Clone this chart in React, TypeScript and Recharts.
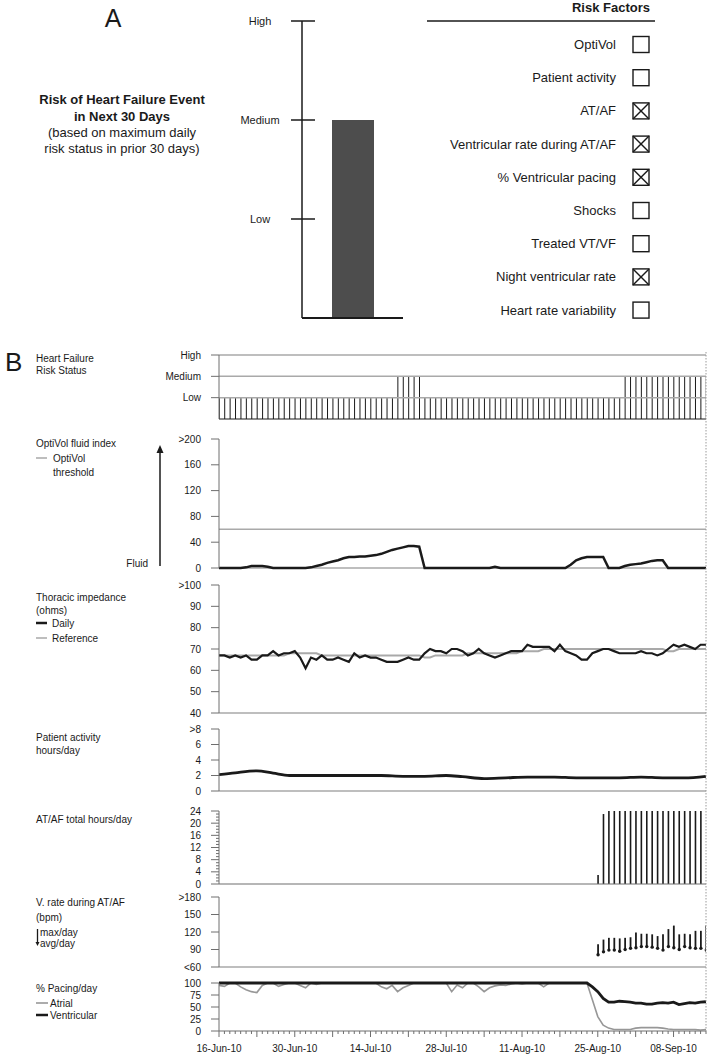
import React from 'react';
import { BarChart, ComposedChart, Bar, Line, XAxis, YAxis, ReferenceLine } from 'recharts';

const FONT = '"Liberation Sans", Arial, Helvetica, sans-serif';
const INK = '#1a1a1a';
const AXIS = '#6e6e6e';
const GRID = '#a9a9a9';

// ---- panel A data
const riskLevels = ['Low', 'Medium', 'High'];
const currentRisk = 2;
const riskFactors = [
  'OptiVol',
  'Patient activity',
  'AT/AF',
  'Ventricular rate during AT/AF',
  '% Ventricular pacing',
  'Shocks',
  'Treated VT/VF',
  'Night ventricular rate',
  'Heart rate variability',
];
const riskFactorFlags = [false, false, true, true, true, false, false, true, false];

// ---- panel B data (day 0 = 16-Jun-10)
const days = Array.from({ length: 91 }, (_, i) => i);
const dateTickDays = [0, 14, 28, 42, 56, 70, 84];
const dateTickLabels = ['16-Jun-10', '30-Jun-10', '14-Jul-10', '28-Jul-10', '11-Aug-10', '25-Aug-10', '08-Sep-10'];

const riskStatus = [
  1, 1, 1, 1, 1, 1, 1, 1, 1, 1,
  1, 1, 1, 1, 1, 1, 1, 1, 1, 1,
  1, 1, 1, 1, 1, 1, 1, 1, 1, 1,
  1, 1, 1, 2, 2, 2, 2, 2, 1, 1,
  1, 1, 1, 1, 1, 1, 1, 1, 1, 1,
  1, 1, 1, 1, 1, 1, 1, 1, 1, 1,
  1, 1, 1, 1, 1, 1, 1, 1, 1, 1,
  1, 1, 1, 1, 1, 2, 2, 2, 2, 2,
  2, 2, 2, 2, 2, 2, 2, 2, 2, 2, 2,
];

const optivolIndex = [
  0, 0, 0, 0, 0, 1, 3, 3, 3, 2,
  0, 0, 0, 0, 0, 0, 0, 1, 3, 5,
  8, 10, 12, 15, 17, 17, 18, 18, 19, 20,
  22, 25, 28, 30, 32, 34, 34, 33, 0, 0,
  0, 0, 0, 0, 0, 0, 0, 0, 0, 0,
  0, 2, 0, 0, 0, 0, 0, 0, 0, 0,
  0, 0, 0, 0, 0, 5, 12, 15, 17, 17,
  17, 17, 0, 0, 0, 3, 5, 6, 7, 9,
  11, 12, 12, 0, 0, 0, 0, 0, 0, 0, 0,
];
const optivolThreshold = 60;

const impedanceDaily = [
  67, 67, 66, 67, 66, 67, 65, 65, 67, 67,
  69, 67, 68, 68, 69, 66, 61, 66, 65, 67,
  65, 65, 66, 65, 64, 68, 66, 67, 66, 66,
  65, 64, 64, 64, 65, 66, 65, 65, 68, 70,
  69, 69, 68, 70, 70, 69, 67, 68, 70, 68,
  67, 66, 67, 68, 69, 69, 69, 72, 71, 71,
  71, 71, 69, 72, 69, 68, 67, 65, 65, 68,
  69, 70, 70, 69, 68, 68, 68, 68, 69, 68,
  68, 67, 68, 70, 72, 71, 72, 71, 70, 72, 72,
];
const impedanceReference = [
  67, 67, 67, 67, 67, 67, 67, 67, 67, 67,
  67, 67, 67, 68, 68, 68, 68, 68, 68, 67,
  67, 67, 67, 67, 67, 67, 67, 67, 67, 67,
  67, 67, 67, 67, 67, 67, 67, 67, 66, 66,
  67, 67, 67, 67, 67, 67, 68, 68, 68, 68,
  68, 68, 68, 68, 68, 68, 69, 69, 69, 69,
  70, 70, 70, 70, 70, 70, 70, 70, 70, 70,
  70, 70, 70, 70, 70, 70, 70, 70, 70, 70,
  70, 70, 70, 69, 69, 70, 70, 70, 70, 70, 70,
];

const activityDays = [0, 3, 7, 10, 13, 18, 24, 30, 34, 38, 42, 45, 49, 53, 57, 62, 66, 70, 74, 78, 82, 86, 90];
const activityHours = [2.1, 2.35, 2.6, 2.3, 2.0, 2.0, 2.0, 2.0, 1.9, 1.9, 2.0, 1.85, 1.6, 1.7, 1.8, 1.8, 1.7, 1.7, 1.7, 1.8, 1.7, 1.7, 1.9];

const atafDays = [70, 71, 72, 73, 74, 75, 76, 77, 78, 79, 80, 81, 82, 83, 84, 85, 86, 87, 88, 89];
const atafHours = [3, 23, 24, 24, 24, 24, 24, 24, 24, 24, 24, 24, 24, 24, 24, 24, 24, 24, 24, 24];

const vrateDays = [70, 71, 72, 73, 74, 75, 76, 77, 78, 79, 80, 81, 82, 83, 84, 85, 86, 87, 88, 89, 90];
const vrateMax = [99, 107, 110, 110, 109, 110, 111, 119, 117, 117, 116, 113, 116, 125, 131, 116, 117, 116, 122, 122, 131];
const vrateAvg = [81, 86, 89, 89, 87, 90, 92, 93, 95, 95, 94, 92, 89, 95, 93, 90, 95, 93, 92, 92, 89];

const pacingAtrial = [
  95, 93, 100, 100, 92, 86, 82, 80, 95, 100,
  100, 93, 97, 100, 100, 95, 90, 100, 97, 100,
  100, 100, 100, 100, 100, 100, 100, 100, 100, 100,
  92, 88, 95, 82, 90, 95, 100, 100, 100, 100,
  100, 100, 100, 82, 96, 90, 100, 100, 92, 82,
  90, 94, 96, 95, 98, 100, 98, 100, 100, 100,
  92, 100, 100, 100, 100, 100, 100, 100, 100, 65,
  30, 12, 6, 3, 3, 3, 3, 6, 7, 7,
  7, 7, 6, 4, 3, 3, 3, 3, 3, 2, 3,
];
const pacingVentricular = [
  100, 100, 100, 100, 100, 100, 100, 100, 100, 100,
  100, 100, 100, 100, 100, 100, 100, 100, 100, 100,
  100, 100, 100, 100, 100, 100, 100, 100, 100, 100,
  100, 100, 100, 100, 100, 100, 100, 100, 100, 100,
  100, 100, 100, 100, 100, 100, 100, 100, 100, 100,
  100, 100, 100, 100, 100, 100, 100, 100, 100, 100,
  100, 100, 100, 100, 100, 100, 100, 100, 100, 92,
  82, 68, 60, 60, 62, 61, 60, 58, 58, 56,
  56, 58, 59, 58, 60, 55, 57, 59, 58, 60, 61,
];

// ---- layout
const PLOT_LEFT = 219;
const PLOT_RIGHT = 706;
const Y_W = 60;
const PAD = 8;
const A_AXIS_X = 302;

const riskTable = days.map((d, i) => ({ day: d, status: riskStatus[i] }));
const optivolTable = days.map((d, i) => ({ day: d, fluid: optivolIndex[i] }));
const impedanceTable = days.map((d, i) => ({ day: d, daily: impedanceDaily[i], reference: impedanceReference[i] }));
const activityTable = activityDays.map((d, i) => ({ day: d, hours: activityHours[i] }));
const atafTable = atafDays.map((d, i) => ({ day: d, hours: atafHours[i] }));
const vrateTable = vrateDays.map((d, i) => ({ day: d, max: vrateMax[i], avg: vrateAvg[i] }));
const pacingTable = days.map((d, i) => ({ day: d, atrial: pacingAtrial[i], ventricular: pacingVentricular[i] }));

const yTick = (fmt: (v: number) => string | null, isMajor: (v: number) => boolean = () => true) =>
  (p: any) => {
    const v = Number(p.payload.value);
    const label = fmt(v);
    return (
      <g>
        <line x1={PLOT_LEFT - (isMajor(v) ? 8 : 3)} x2={PLOT_LEFT} y1={p.y} y2={p.y} stroke={AXIS} />
        {label !== null && (
          <text x={PLOT_LEFT - 18} y={p.y} dy="0.35em" textAnchor="end" fontSize={10} fontFamily={FONT} fill={INK}>
            {label}
          </text>
        )}
      </g>
    );
  };

const dateTick = (p: any) => {
  const d = Number(p.payload.value);
  const idx = dateTickDays.indexOf(d);
  return (
    <g>
      <line x1={p.x} x2={p.x} y1={p.y} y2={p.y + (d % 7 === 0 ? 6 : 3)} stroke={AXIS} />
      {idx >= 0 && (
        <text x={p.x} y={p.y + 21} textAnchor="middle" fontSize={10} fontFamily={FONT} fill={INK}>
          {dateTickLabels[idx]}
        </text>
      )}
    </g>
  );
};

const riskTickA = (p: any) => {
  const v = Number(p.payload.value);
  return (
    <g>
      <line x1={A_AXIS_X - 11} x2={A_AXIS_X + 13} y1={p.y} y2={p.y} stroke={INK} strokeWidth={1.5} />
      <text x={260} y={p.y} dy="0.35em" textAnchor="middle" fontSize={11} fontFamily={FONT} fill={INK}>
        {riskLevels[v - 1]}
      </text>
    </g>
  );
};

const Stroke = (width: number) => (p: any) => {
  const cx = p.x + p.width / 2;
  const y1 = Math.min(p.y, p.y + p.height);
  const y2 = Math.max(p.y, p.y + p.height);
  return <line x1={cx} x2={cx} y1={y1} y2={y2} stroke={INK} strokeWidth={width} />;
};

const RangeStroke = (p: any) => {
  const cx = p.x + p.width / 2;
  const y1 = Math.min(p.y, p.y + p.height);
  const y2 = Math.max(p.y, p.y + p.height);
  return (
    <g>
      <line x1={cx} x2={cx} y1={y1} y2={y2} stroke={INK} strokeWidth={1.8} />
      <circle cx={cx} cy={y2} r={1.7} fill={INK} />
    </g>
  );
};

function Strip({ top, bottom, data, xAxisHeight = 0, children }: any) {
  const height = bottom - top + PAD + (xAxisHeight || PAD);
  return (
    <div style={{ position: 'absolute', left: 0, top: top - PAD }}>
      <ComposedChart
        width={709}
        height={height}
        data={data}
        margin={{ top: PAD, right: 709 - PLOT_RIGHT, bottom: xAxisHeight ? 0 : PAD, left: PLOT_LEFT - Y_W }}
      >
        {children}
      </ComposedChart>
    </div>
  );
}

const hiddenX = <XAxis type="number" dataKey="day" domain={[0, 90]} hide allowDataOverflow />;

function Label({ x, y, children, size = 10, weight = 'normal', anchor = 'start' }: any) {
  return (
    <text x={x} y={y} dy="0.35em" fontSize={size} fontWeight={weight} textAnchor={anchor} fontFamily={FONT} fill={INK}>
      {children}
    </text>
  );
}

export default function App() {
  return (
    <div style={{ position: 'absolute', left: 0, top: 0, width: 709, height: 1058, background: '#fff', overflow: 'hidden' }}>
      {/* Panel A: current risk */}
      <div style={{ position: 'absolute', left: 0, top: 0 }}>
        <BarChart width={420} height={330} data={[{ name: 'now', level: currentRisk }]} margin={{ top: 21, right: 17, bottom: 12, left: A_AXIS_X - 80 }}>
          <XAxis dataKey="name" hide />
          <YAxis type="number" domain={[0, 3]} ticks={[1, 2, 3]} width={80} interval={0} axisLine={{ stroke: INK, strokeWidth: 1.5 }} tickLine={false} tick={riskTickA} />
          <ReferenceLine y={0} stroke={INK} strokeWidth={2} />
          <Bar dataKey="level" fill="#4d4d4d" barSize={42} isAnimationActive={false} />
        </BarChart>
      </div>

      {/* Heart failure risk status */}
      <Strip top={355} bottom={419} data={riskTable}>
        {hiddenX}
        <YAxis type="number" domain={[0, 3]} ticks={[1, 2, 3]} width={Y_W} interval={0} axisLine={{ stroke: AXIS }} tickLine={false} tick={yTick((v) => riskLevels[v - 1])} />
        <ReferenceLine y={3} stroke={GRID} strokeWidth={1.5} />
        <ReferenceLine y={2} stroke={GRID} strokeWidth={1.5} />
        <ReferenceLine y={1} stroke={GRID} strokeWidth={1.5} />
        <ReferenceLine y={0} stroke={INK} strokeWidth={1.2} />
        <Bar dataKey="status" barSize={2} shape={Stroke(1)} isAnimationActive={false} />
      </Strip>

      {/* OptiVol */}
      <Strip top={439} bottom={568} data={optivolTable}>
        {hiddenX}
        <YAxis type="number" domain={[0, 200]} ticks={[0, 40, 80, 120, 160, 200]} width={Y_W} interval={0} axisLine={{ stroke: AXIS }} tickLine={false} tick={yTick((v) => (v === 200 ? '>200' : String(v)))} />
        <ReferenceLine y={0} stroke={GRID} strokeWidth={1.5} />
        <ReferenceLine y={optivolThreshold} stroke={GRID} strokeWidth={1.5} />
        <Line dataKey="fluid" type="linear" stroke={INK} strokeWidth={2.5} dot={false} isAnimationActive={false} />
      </Strip>

      {/* Thoracic impedance */}
      <Strip top={585} bottom={713} data={impedanceTable}>
        {hiddenX}
        <YAxis type="number" domain={[40, 100]} ticks={[40, 50, 60, 70, 80, 90, 100]} width={Y_W} interval={0} axisLine={{ stroke: AXIS }} tickLine={false} tick={yTick((v) => (v === 100 ? '>100' : String(v)))} />
        <ReferenceLine y={40} stroke={GRID} strokeWidth={1.5} />
        <Line dataKey="reference" type="linear" stroke={GRID} strokeWidth={2} dot={false} isAnimationActive={false} />
        <Line dataKey="daily" type="linear" stroke={INK} strokeWidth={2.2} dot={false} isAnimationActive={false} />
      </Strip>

      {/* Patient activity */}
      <Strip top={729} bottom={791} data={activityTable}>
        {hiddenX}
        <YAxis type="number" domain={[0, 8]} ticks={[0, 2, 4, 6, 8]} width={Y_W} interval={0} axisLine={{ stroke: AXIS }} tickLine={false} tick={yTick((v) => (v === 8 ? '>8' : String(v)))} />
        <ReferenceLine y={0} stroke={GRID} strokeWidth={1.5} />
        <Line dataKey="hours" type="monotone" stroke={INK} strokeWidth={2.8} dot={false} isAnimationActive={false} />
      </Strip>

      {/* AT/AF burden */}
      <Strip top={811} bottom={884} data={atafTable}>
        {hiddenX}
        <YAxis
          type="number"
          domain={[0, 24]}
          ticks={[0, 1, 2, 3, 4, 5, 6, 7, 8, 9, 10, 11, 12, 13, 14, 15, 16, 17, 18, 19, 20, 21, 22, 23, 24]}
          width={Y_W}
          interval={0}
          axisLine={{ stroke: AXIS }}
          tickLine={false}
          tick={yTick((v) => (v % 4 === 0 ? String(v) : null), (v) => v % 4 === 0)}
        />
        <ReferenceLine y={0} stroke={AXIS} strokeWidth={1.2} />
        <Bar dataKey="hours" barSize={2} shape={Stroke(1.6)} isAnimationActive={false} />
      </Strip>

      {/* V. rate during AT/AF */}
      <Strip top={897} bottom={967} data={vrateTable}>
        {hiddenX}
        <YAxis type="number" domain={[60, 180]} ticks={[60, 90, 120, 150, 180]} width={Y_W} interval={0} axisLine={{ stroke: AXIS }} tickLine={false} tick={yTick((v) => (v === 180 ? '>180' : v === 60 ? '<60' : String(v)))} />
        <ReferenceLine y={60} stroke={GRID} strokeWidth={1.5} />
        <Bar dataKey={(e: any) => [e.avg, e.max]} barSize={2} shape={RangeStroke} isAnimationActive={false} />
      </Strip>

      {/* % pacing */}
      <Strip top={983} bottom={1031} data={pacingTable} xAxisHeight={26}>
        <XAxis
          type="number"
          dataKey="day"
          domain={[0, 90]}
          ticks={days}
          interval={0}
          height={26}
          axisLine={{ stroke: AXIS }}
          tickLine={false}
          tickSize={0}
          tickMargin={0}
          tick={dateTick}
          allowDataOverflow
        />
        <YAxis type="number" domain={[0, 100]} ticks={[0, 25, 50, 75, 100]} width={Y_W} interval={0} axisLine={{ stroke: AXIS }} tickLine={false} tick={yTick((v) => String(v))} />
        <Line dataKey="atrial" type="linear" stroke="#979797" strokeWidth={1.6} dot={false} isAnimationActive={false} />
        <Line dataKey="ventricular" type="linear" stroke={INK} strokeWidth={2.8} dot={false} isAnimationActive={false} />
      </Strip>

      {/* annotations */}
      <svg width={709} height={1058} style={{ position: 'absolute', left: 0, top: 0, pointerEvents: 'none' }}>
        <Label x={113} y={18} size={25} anchor="middle">A</Label>
        <Label x={122} y={99} size={13} weight="bold" anchor="middle">Risk of Heart Failure Event</Label>
        <Label x={122} y={116} size={13} weight="bold" anchor="middle">in Next 30 Days</Label>
        <Label x={122} y={132} size={13} anchor="middle">(based on maximum daily</Label>
        <Label x={122} y={148} size={13} anchor="middle">risk status in prior 30 days)</Label>

        <Label x={650} y={7} size={13} weight="bold" anchor="end">Risk Factors</Label>
        <line x1={427} x2={655} y1={21} y2={21} stroke={INK} strokeWidth={1.5} />
        {riskFactors.map((f, i) => {
          const cy = 44.5 + i * 33.2;
          return (
            <g key={f}>
              <Label x={616} y={cy} size={13} anchor="end">{f}</Label>
              <rect x={633} y={cy - 8} width={16} height={16} fill="#fff" stroke={INK} strokeWidth={1.4} />
              {riskFactorFlags[i] && (
                <g stroke={INK} strokeWidth={1.4}>
                  <line x1={633} y1={cy - 8} x2={649} y2={cy + 8} />
                  <line x1={649} y1={cy - 8} x2={633} y2={cy + 8} />
                </g>
              )}
            </g>
          );
        })}

        <Label x={5} y={362} size={26}>B</Label>
        <Label x={36} y={358}>Heart Failure</Label>
        <Label x={36} y={370}>Risk Status</Label>

        <Label x={36} y={443}>OptiVol fluid index</Label>
        <line x1={36} x2={47} y1={458} y2={458} stroke={GRID} strokeWidth={1.5} />
        <Label x={53} y={458}>OptiVol</Label>
        <Label x={53} y={472}>threshold</Label>
        <line x1={160} x2={160} y1={566} y2={452} stroke={INK} strokeWidth={1.5} />
        <polygon points="156.5,453 163.5,453 160,445" fill={INK} />
        <Label x={148} y={563} anchor="end">Fluid</Label>

        <Label x={36} y={597}>Thoracic impedance</Label>
        <Label x={36} y={610}>(ohms)</Label>
        <line x1={36} x2={47} y1={623} y2={623} stroke={INK} strokeWidth={2.5} />
        <Label x={52} y={623}>Daily</Label>
        <line x1={36} x2={47} y1={638} y2={638} stroke={GRID} strokeWidth={1.5} />
        <Label x={52} y={638}>Reference</Label>

        <Label x={36} y={737}>Patient activity</Label>
        <Label x={36} y={750}>hours/day</Label>

        <Label x={36} y={819}>AT/AF total hours/day</Label>

        <Label x={36} y={902}>V. rate during AT/AF</Label>
        <Label x={36} y={917}>(bpm)</Label>
        <line x1={37.5} x2={37.5} y1={929} y2={943} stroke={INK} strokeWidth={1.3} />
        <polygon points="35.5,942 39.5,942 37.5,946" fill={INK} />
        <Label x={40} y={932}>max/day</Label>
        <Label x={40} y={943}>avg/day</Label>

        <Label x={36} y={988}>% Pacing/day</Label>
        <line x1={36} x2={48} y1={1003} y2={1003} stroke="#979797" strokeWidth={1.6} />
        <Label x={50} y={1003}>Atrial</Label>
        <line x1={36} x2={48} y1={1015} y2={1015} stroke={INK} strokeWidth={2.5} />
        <Label x={50} y={1015}>Ventricular</Label>

        <line x1={706} x2={706} y1={352} y2={1031} stroke="#9a9a9a" strokeWidth={1} strokeDasharray="1.5 1.5" />
      </svg>
    </div>
  );
}
